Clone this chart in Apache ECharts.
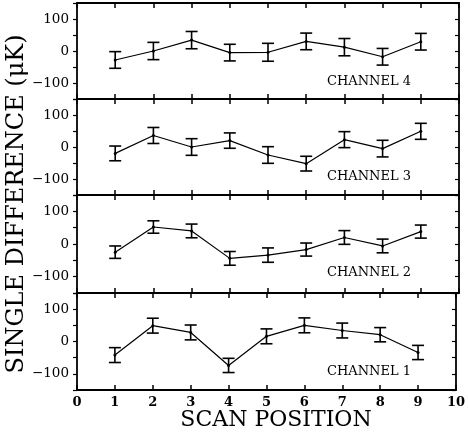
<!DOCTYPE html>
<html>
<head>
<meta charset="utf-8">
<script src="https://cdn.jsdelivr.net/npm/echarts@6/dist/echarts.min.js"></script>
<style>html,body{margin:0;padding:0;background:#fff}#c{width:468px;height:433px}</style>
</head>
<body>
<div id="c"></div>
<script>
// Scan positions
const positions = [1, 2, 3, 4, 5, 6, 7, 8, 9];
// Channel values (μK), top panel = channel 4
const ch4 = [-28, 0, 34, -5, -4, 30, 12, -18, 29];
const ch4err = [26, 27, 27, 26, 28, 26, 27, 26, 26];
const ch3 = [-20, 36, 0, 20, -25, -52, 23, -5, 49];
const ch3err = [23, 25, 26, 24, 26, 23, 25, 26, 25];
const ch2 = [-25, 52, 40, -44, -34, -17, 20, -6, 38];
const ch2err = [19, 19, 21, 21, 22, 20, 21, 21, 20];
const ch1 = [-42, 49, 28, -74, 16, 50, 34, 21, -34];
const ch1err = [23, 23, 23, 22, 23, 23, 23, 22, 22];
const channelNames = ['CHANNEL 4', 'CHANNEL 3', 'CHANNEL 2', 'CHANNEL 1'];
const xTicks = [0, 1, 2, 3, 4, 5, 6, 7, 8, 9, 10];
const yLabelValues = [-100, 0, 100];

const panels = [[ch4, ch4err], [ch3, ch3err], [ch2, ch2err], [ch1, ch1err]];
const gridPos = [[3, 96], [99, 96], [195, 98], [293, 97]];
const labelY = [82, 177, 273, 372];
const FONT = 'DejaVu Serif';

const grids = [], xAxes = [], yAxes = [], series = [], graphics = [];
panels.forEach((p, i) => {
  grids.push({left: 77, right: 9, top: gridPos[i][0], height: gridPos[i][1]});
  const isLast = i === panels.length - 1;
  xAxes.push({
    gridIndex: i, type: 'value', min: 0, max: 10, interval: 1, position: 'bottom',
    axisLine: {show: true, onZero: false, lineStyle: {color: '#000', width: 1.8}},
    axisTick: {show: true, inside: true, length: 5, lineStyle: {color: '#000', width: 1.5}},
    axisLabel: {show: isLast, margin: 6, color: '#000', fontFamily: FONT, fontSize: 13, fontWeight: 'bold'},
    splitLine: {show: false}
  });
  xAxes.push({
    gridIndex: i, type: 'value', min: 0, max: 10, interval: 1, position: 'top',
    axisLine: {show: true, onZero: false, lineStyle: {color: '#000', width: 1.8}},
    axisTick: {show: true, inside: true, length: 5, lineStyle: {color: '#000', width: 1.5}},
    axisLabel: {show: false}, splitLine: {show: false}
  });
  yAxes.push({
    gridIndex: i, type: 'value', min: -150, max: 150, interval: 50, position: 'left',
    axisLine: {show: true, onZero: false, lineStyle: {color: '#000', width: 1.8}},
    axisTick: {show: true, inside: false, length: 4, lineStyle: {color: '#000', width: 1.2}},
    axisLabel: {margin: 8, color: '#000', fontFamily: FONT, fontSize: 13.5,
      formatter: v => yLabelValues.includes(v) ? (v < 0 ? '\u2212' + Math.abs(v) : String(v)) : ''},
    splitLine: {show: false}
  });
  yAxes.push({
    gridIndex: i, type: 'value', min: -150, max: 150, interval: 50, position: 'right',
    axisLine: {show: true, onZero: false, lineStyle: {color: '#000', width: 1.8}},
    axisTick: {show: true, inside: true, length: 4, lineStyle: {color: '#000', width: 1.2}},
    axisLabel: {show: false}, splitLine: {show: false}
  });
  const vals = p[0], errs = p[1];
  series.push({
    type: 'line', xAxisIndex: 2 * i, yAxisIndex: 2 * i,
    data: positions.map((x, k) => [x, vals[k]]),
    symbol: 'circle', symbolSize: 3,
    itemStyle: {color: '#000'}, lineStyle: {color: '#000', width: 1.2},
    animation: false, silent: true
  });
  series.push({
    type: 'custom', xAxisIndex: 2 * i, yAxisIndex: 2 * i,
    data: positions.map((x, k) => [x, vals[k] - errs[k], vals[k] + errs[k]]),
    renderItem: function (params, api) {
      const lo = api.coord([api.value(0), api.value(1)]);
      const hi = api.coord([api.value(0), api.value(2)]);
      const w = 6;
      const st = {stroke: '#000', lineWidth: 1.6};
      return {type: 'group', children: [
        {type: 'line', shape: {x1: lo[0], y1: lo[1], x2: hi[0], y2: hi[1]}, style: st},
        {type: 'line', shape: {x1: lo[0] - w, y1: lo[1], x2: lo[0] + w, y2: lo[1]}, style: st},
        {type: 'line', shape: {x1: hi[0] - w, y1: hi[1], x2: hi[0] + w, y2: hi[1]}, style: st}
      ]};
    },
    animation: false, silent: true
  });
  graphics.push({
    type: 'text', left: 327, top: labelY[i] - 7,
    style: {text: channelNames[i], font: '13px "' + FONT + '"', fill: '#000'}
  });
});

graphics.push({
  type: 'text', x: 276, y: 420,
  style: {text: 'SCAN POSITION', font: '22px "' + FONT + '"', fill: '#000', align: 'center', verticalAlign: 'middle'}
});
graphics.push({
  type: 'text', x: 17, y: 204, rotation: Math.PI / 2,
  style: {text: 'SINGLE DIFFERENCE (\u03bcK)', font: '24px "' + FONT + '"', fill: '#000', align: 'center', verticalAlign: 'middle'}
});

const chart = echarts.init(document.getElementById('c'), null, {renderer: 'canvas'});
chart.setOption({
  animation: false,
  backgroundColor: '#fff',
  grid: grids, xAxis: xAxes, yAxis: yAxes, series: series, graphic: graphics
});
</script>
</body>
</html>
